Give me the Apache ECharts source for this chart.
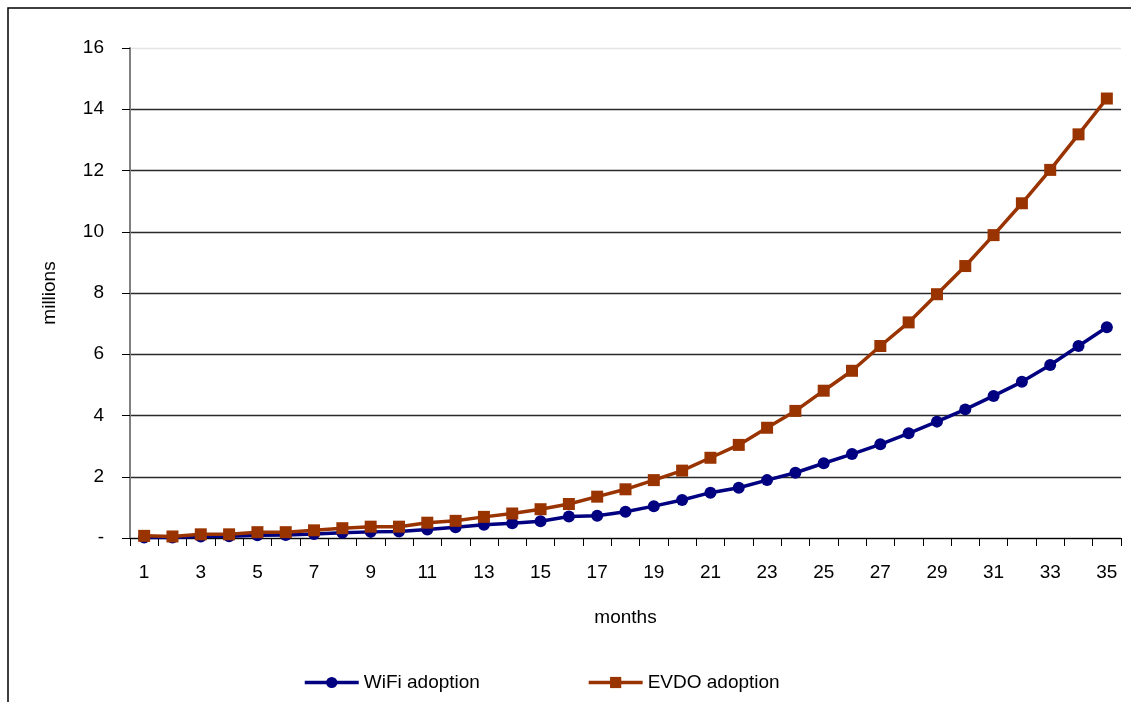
<!DOCTYPE html>
<html>
<head>
<meta charset="utf-8">
<script src="https://cdn.jsdelivr.net/npm/echarts@6/dist/echarts.min.js"></script>
<style>
html,body{margin:0;padding:0;background:#fff;}
#chart{width:1131px;height:702px;}
</style>
</head>
<body>
<div id="chart"></div>
<script>
const months = [];
for (let i = 1; i <= 35; i++) months.push(String(i));
const wifiAdoption = [0.02,0.02,0.05,0.06,0.09,0.10,0.13,0.17,0.20,0.21,0.28,0.35,0.43,0.48,0.55,0.70,0.73,0.86,1.04,1.24,1.48,1.64,1.89,2.13,2.44,2.74,3.06,3.42,3.80,4.20,4.64,5.10,5.65,6.27,6.88];
const evdoAdoption = [0.07,0.05,0.12,0.12,0.19,0.19,0.25,0.32,0.37,0.37,0.50,0.56,0.69,0.80,0.94,1.11,1.35,1.59,1.89,2.20,2.62,3.04,3.60,4.15,4.81,5.46,6.27,7.04,7.96,8.88,9.89,10.93,12.02,13.18,14.35];
const yTicks = [0,2,4,6,8,10,12,14,16];

const FONT = '"Liberation Sans", Arial, sans-serif';
const chart = echarts.init(document.getElementById('chart'));
chart.setOption({
  animation: false,
  backgroundColor: '#fff',
  textStyle: {fontFamily: FONT},
  graphic: [{
    type: 'rect', shape: {x: 8, y: 8, width: 1140, height: 720},
    style: {fill: 'none', stroke: '#000', lineWidth: 1.5}, z: 0
  }],
  grid: {left: 130, right: 10, top: 48, bottom: 164},
  legend: {
    top: 668, left: 298, itemGap: 107, itemWidth: 54, itemHeight: 14,
    lineStyle: {width: 3.5},
    textStyle: {fontFamily: FONT, fontSize: 19, color: '#000'},
    data: ['WiFi adoption', 'EVDO adoption']
  },
  xAxis: {
    type: 'category', data: months, boundaryGap: true,
    name: 'months', nameLocation: 'middle', nameGap: 70,
    nameTextStyle: {fontFamily: FONT, fontSize: 19, color: '#000'},
    axisLine: {lineStyle: {color: '#000', width: 1}},
    axisTick: {show: true, interval: 0, length: 8, lineStyle: {color: '#000'}},
    axisLabel: {interval: 1, fontFamily: FONT, fontSize: 19, color: '#000', margin: 25}
  },
  yAxis: {
    type: 'value', min: yTicks[0], max: yTicks[yTicks.length - 1], interval: 2,
    name: 'millions', nameLocation: 'middle', nameGap: 71, nameRotate: 90,
    nameTextStyle: {fontFamily: FONT, fontSize: 19, color: '#000'},
    axisLine: {show: true, lineStyle: {color: '#808080', width: 2}},
    axisTick: {show: true, length: 8, lineStyle: {color: '#000'}},
    axisLabel: {fontFamily: FONT, fontSize: 19, color: '#000', margin: 26,
      formatter: v => v === 0 ? '-' : String(v)},
    splitLine: {show: true, lineStyle: {width: 1.3,
      color: ['#2a2a2a','#2a2a2a','#2a2a2a','#2a2a2a','#2a2a2a','#2a2a2a','#2a2a2a','#2a2a2a','#e4e4e4']}}
  },
  series: [
    {name: 'WiFi adoption', type: 'line', data: wifiAdoption,
     symbol: 'circle', symbolSize: 12,
     lineStyle: {color: '#000080', width: 3.5},
     itemStyle: {color: '#000080'}, z: 3},
    {name: 'EVDO adoption', type: 'line', data: evdoAdoption,
     symbol: 'rect', symbolSize: 12,
     lineStyle: {color: '#993300', width: 3.5},
     itemStyle: {color: '#993300'}, z: 4}
  ]
});
</script>
</body>
</html>
